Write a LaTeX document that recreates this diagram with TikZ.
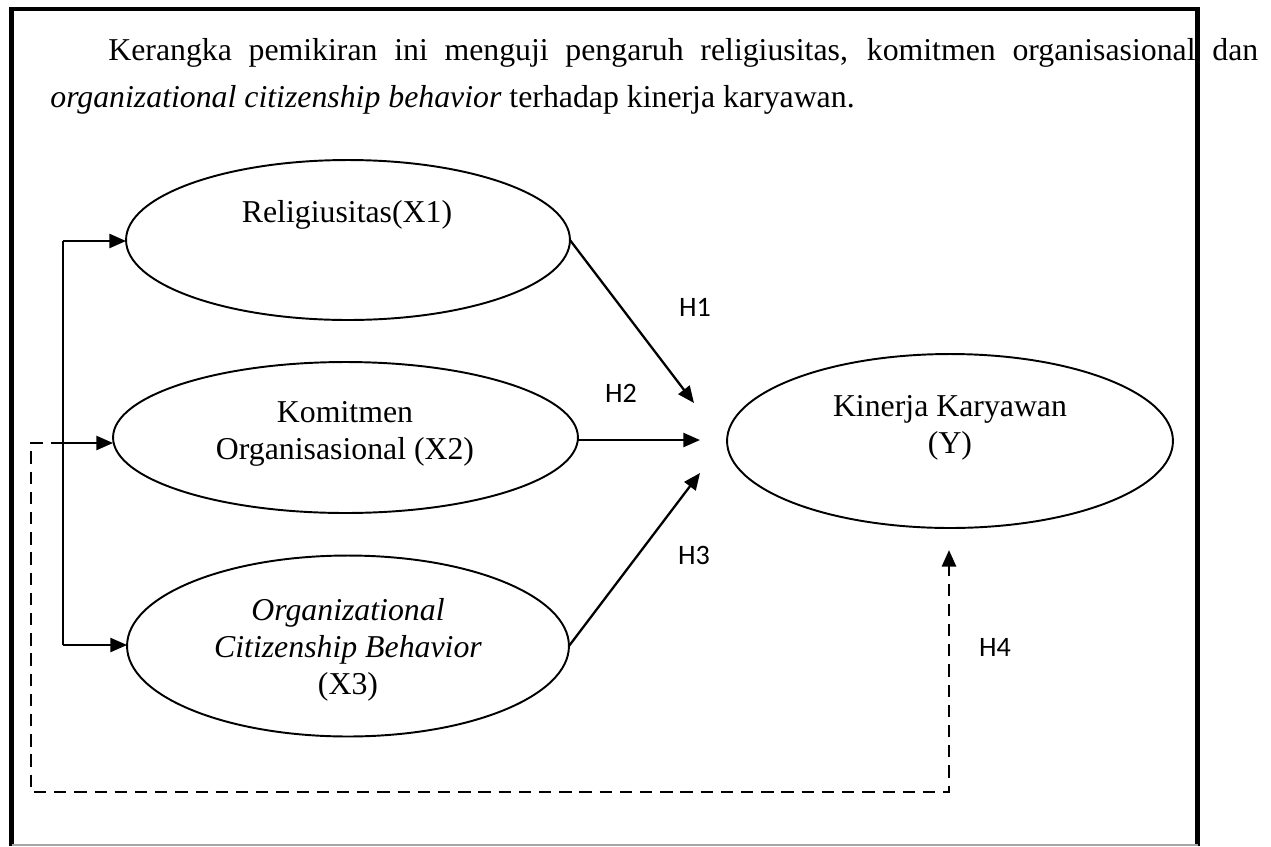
\documentclass[tikz,border=0pt]{standalone}
\usepackage{fontspec}
\setmainfont{Liberation Serif}
\newfontfamily\hfont{Carlito}
\usetikzlibrary{arrows.meta,shapes.geometric}
\begin{document}
\begin{tikzpicture}[x=0.02cm,y=-0.02cm,
  >={Triangle[length=9.5pt,width=8pt]},
  var/.style={draw,ellipse,line width=1.1pt,inner sep=0pt,outer sep=0pt},
  txt/.style={inner sep=0pt,align=center,font=\fontsize{18.1}{21}\selectfont},
  ptxt/.style={inner sep=0pt,anchor=base west,font=\fontsize{18.1}{21}\selectfont},
  hyp/.style={inner sep=0pt,font=\hfont\fontsize{16}{19}\selectfont},
  link/.style={->,line width=1.3pt},
  dlink/.style={->,line width=1.6pt,dash pattern=on 7pt off 4.5pt}]
\useasboundingbox (0,0) rectangle (1271,846);
\draw[line width=2.8pt] (11.5,846) -- (11.5,9) -- (1197.5,9) -- (1197.5,846);
\draw[gray!70,line width=0.6pt] (11.5,845) -- (1197.5,845);
\node[ptxt] (line1) at (108,60) {\makebox[23cm][s]{Kerangka pemikiran ini menguji pengaruh religiusitas, komitmen organisasional dan}};
\node[ptxt] (line2) at (50,107) {\textit{organizational citizenship behavior} terhadap kinerja karyawan.};
\node[var,minimum width=8.88cm,minimum height=3.2cm] (rel) at (348,240) {};
\node[var,minimum width=9.3cm,minimum height=3.02cm] (kom) at (345.5,437.5) {};
\node[var,minimum width=8.84cm,minimum height=3.62cm] (ocb) at (348,646) {};
\node[var,minimum width=8.92cm,minimum height=3.48cm] (kin) at (950,441) {};
\node[txt,anchor=base] (relt) at (347,222) {Religiusitas(X1)};
\node[txt] (komt) at (345,434) {Komitmen\\Organisasional (X2)};
\node[txt] (ocbt) at (348,650) {\textit{Organizational}\\\textit{Citizenship Behavior}\\(X3)};
\node[txt] (kint) at (950,428) {Kinerja Karyawan\\(Y)};
\coordinate (b1) at (63,241);
\coordinate (b2) at (63,443);
\coordinate (b3) at (63,645);
\draw[line width=1.3pt] (b1) -- (b3);
\draw[link] (b1) -- (b1 -| rel.west);
\draw[link] (b2) -- (b2 -| kom.west);
\draw[link] (b3) -- (b3 -| ocb.west);
\coordinate (h1) at (694,403);
\coordinate (h2) at (700,440);
\coordinate (h3) at (700,473);
\coordinate (d1) at (31,792);
\coordinate (h4) at (949,550);
\draw[link] (rel.east) -- (h1);
\draw[link] (kom.east |- h2) -- (h2);
\draw[link] (ocb.east) -- (h3);
\draw[dlink] (b2) -| (d1) -| (h4);
\node[hyp] (lh1) at (695,307) {H1};
\node[hyp] (lh2) at (621,393) {H2};
\node[hyp] (lh3) at (694,555) {H3};
\node[hyp] (lh4) at (995,647) {H4};
\end{tikzpicture}
\end{document}
